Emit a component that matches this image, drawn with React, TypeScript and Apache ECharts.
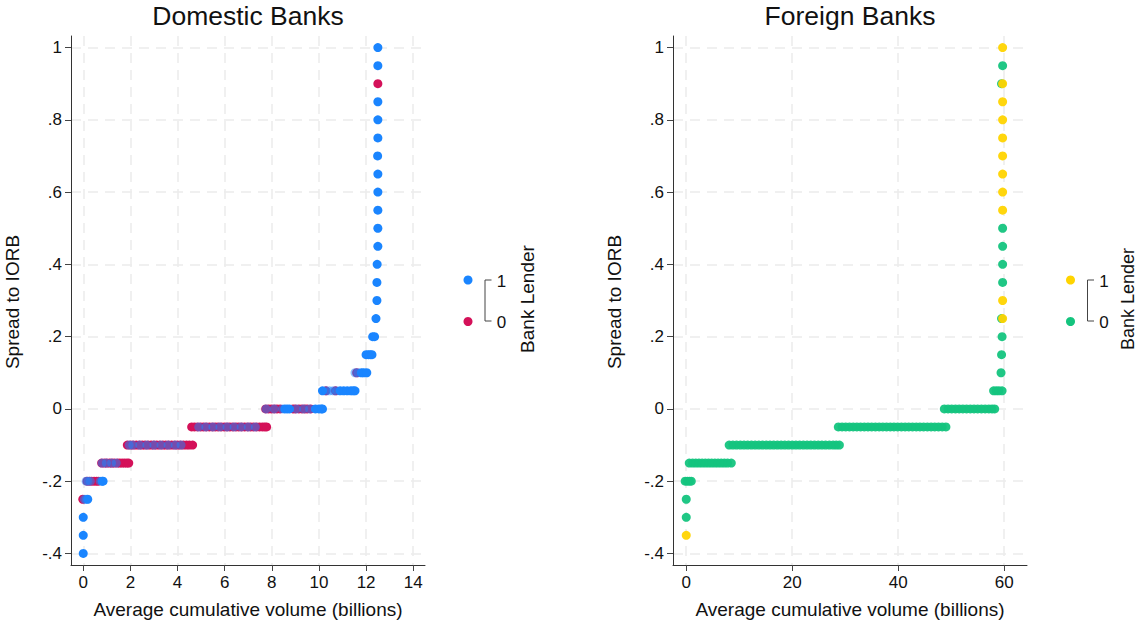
import React, { useEffect, useRef } from "react";
import * as echarts from "echarts";

// ---------- DATA ----------
const panelTitles = ["Domestic Banks", "Foreign Banks"];
const xAxisTitle = "Average cumulative volume (billions)";
const yAxisTitle = "Spread to IORB";
const legendTitle = "Bank Lender";
const legendLabels = ["1", "0"];

const yTicks = [-0.4, -0.2, 0, 0.2, 0.4, 0.6, 0.8, 1];
const domesticXTicks = [0, 2, 4, 6, 8, 10, 12, 14];
const foreignXTicks = [0, 20, 40, 60];

// [spread level, list of average cumulative volumes]
const domesticLender0: [number, number[]][] = [
  [-0.25, [-0.02]],
  [-0.2, [0.16, 0.26, 0.36, 0.46, 0.56, 0.64]],
  [-0.15, [0.78, 0.9, 1.0, 1.12, 1.22, 1.32, 1.45, 1.55, 1.65, 1.75, 1.85, 1.93]],
  [-0.1, [1.87, 2.0, 2.12, 2.25, 2.38, 2.5, 2.62, 2.75, 2.88, 3.0, 3.12, 3.25, 3.38, 3.5, 3.62, 3.75, 3.88, 4.0, 4.12, 4.25, 4.38, 4.5, 4.64]],
  [-0.05, [4.6, 4.72, 4.85, 4.98, 5.1, 5.22, 5.35, 5.48, 5.6, 5.72, 5.85, 5.98, 6.1, 6.22, 6.35, 6.48, 6.6, 6.72, 6.85, 6.98, 7.1, 7.22, 7.35, 7.48, 7.6, 7.7, 7.78]],
  [0, [7.74, 7.86, 7.98, 8.1, 8.22, 8.35, 8.9, 9.0, 9.15, 9.28, 9.4, 9.5, 9.65]],
  [0.05, [10.3, 10.7]],
  [0.1, [11.6]],
  [0.9, [12.5]],
];

const domesticLender1: [number, number[]][] = [
  [-0.4, [0]],
  [-0.35, [0]],
  [-0.3, [0]],
  [-0.25, [0.05, 0.12, 0.19]],
  [-0.2, [0.12, 0.2, 0.3, 0.72, 0.8, 0.84]],
  [-0.15, [0.8, 0.98, 1.2, 1.4]],
  [-0.1, [1.95, 2.1, 2.4, 2.7, 3.0, 3.3, 3.6, 3.9, 4.15]],
  [-0.05, [4.9, 5.2, 5.5, 5.8, 6.1, 6.4, 6.7, 7.0, 7.3]],
  [0, [7.76, 8.1, 8.45, 8.55, 8.65, 8.75, 9.05, 9.35, 9.6, 9.85, 10.0, 10.1, 10.15]],
  [0.05, [10.15, 10.3, 10.45, 10.6, 10.75, 10.9, 11.05, 11.2, 11.35, 11.45, 11.53]],
  [0.1, [11.53, 11.65, 11.8, 11.9, 12.03]],
  [0.15, [12.0, 12.1, 12.18, 12.25]],
  [0.2, [12.28, 12.36]],
  [0.25, [12.42]],
  [0.3, [12.46]],
  [0.35, [12.46]],
  [0.4, [12.47]],
  [0.45, [12.5]],
  [0.5, [12.5]],
  [0.55, [12.5]],
  [0.6, [12.5]],
  [0.65, [12.5]],
  [0.7, [12.49]],
  [0.75, [12.5]],
  [0.8, [12.5]],
  [0.85, [12.5]],
  [0.95, [12.5]],
  [1.0, [12.5]],
];

const foreignLender0: [number, number[]][] = [
  [-0.3, [0]],
  [-0.25, [0]],
  [-0.2, [-0.2, 0.2, 0.6, 0.95]],
  [-0.15, [0.57, 1.2, 1.8, 2.4, 3.0, 3.6, 4.2, 4.8, 5.4, 6.0, 6.6, 7.2, 7.8, 8.5]],
  [-0.1, [8.1, 8.8, 9.5, 10.2, 10.9, 11.6, 12.3, 13.0, 13.7, 14.4, 15.1, 15.8, 16.5, 17.2, 17.9, 18.6, 19.3, 20.0, 20.7, 21.4, 22.1, 22.8, 23.5, 24.2, 24.9, 25.6, 26.3, 27.0, 27.7, 28.3, 28.9]],
  [-0.05, [28.7, 29.4, 30.1, 30.8, 31.5, 32.2, 32.9, 33.6, 34.3, 35.0, 35.7, 36.4, 37.1, 37.8, 38.5, 39.2, 39.9, 40.6, 41.3, 42.0, 42.7, 43.4, 44.1, 44.8, 45.5, 46.2, 46.9, 47.6, 48.3, 49.0]],
  [0, [48.7, 49.4, 50.1, 50.8, 51.5, 52.2, 52.9, 53.6, 54.3, 55.0, 55.7, 56.4, 57.1, 57.7, 58.2]],
  [0.05, [58.0, 58.5, 59.0, 59.6]],
  [0.1, [59.4]],
  [0.15, [59.5]],
  [0.2, [59.6]],
  [0.25, [59.5]],
  [0.35, [59.7]],
  [0.4, [59.7]],
  [0.45, [59.7]],
  [0.5, [59.7]],
  [0.9, [59.5]],
  [0.95, [59.7]],
];

const foreignLender1: [number, number[]][] = [
  [-0.35, [0]],
  [0.25, [59.7]],
  [0.3, [59.7]],
  [0.55, [59.7]],
  [0.6, [59.7]],
  [0.65, [59.7]],
  [0.7, [59.7]],
  [0.75, [59.7]],
  [0.8, [59.7]],
  [0.85, [59.7]],
  [0.9, [59.7]],
  [1.0, [59.7]],
];

// ---------- STYLE ----------
const FONT = "'Liberation Sans', Arial, Helvetica, sans-serif";
const BLUE = "#1A85FF";
const RED = "#D41159";
const YELLOW = "#FFD400";
const GREEN = "#14C47E";

const toPoints = (groups: [number, number[]][]) =>
  groups.flatMap(([y, xs]) => xs.map((x) => [x, y]));

// overlapping markers are drawn translucent (so red + blue blends to purple)
const withOverlapOpacity = (
  groups: [number, number[]][],
  under: [number, number[]][],
  near: number,
  overlapOpacity: number
) =>
  toPoints(groups).map(([x, y]) => {
    const row = under.find(([lvl]) => lvl === y);
    const overlaps = !!row && row[1].some((ux) => Math.abs(ux - x) <= near);
    return { value: [x, y], itemStyle: { opacity: overlaps ? overlapOpacity : 1 } };
  });

const yFmt = (v: number) => {
  const s = String(Math.round(v * 10) / 10);
  return s.replace(/^(-?)0\./, "$1.");
};

const gridLine = {
  show: true,
  lineStyle: { color: "#ebebeb", width: 1.5, type: [10, 7] as any },
};

function makeXAxis(gridIndex: number, min: number, max: number, ticks: number[]) {
  return {
    type: "value",
    gridIndex,
    min,
    max,
    axisLine: { show: true, onZero: false, lineStyle: { color: "#333", width: 1 } },
    axisTick: { show: true, length: 6, customValues: ticks, lineStyle: { color: "#444" } },
    axisLabel: {
      customValues: ticks,
      color: "#111",
      fontSize: 17,
      fontFamily: FONT,
      margin: 9,
      showMinLabel: true,
      showMaxLabel: true,
    },
    splitLine: gridLine,
  };
}

function makeYAxis(gridIndex: number) {
  return {
    type: "value",
    gridIndex,
    min: -0.432,
    max: 1.032,
    axisLine: { show: true, onZero: false, lineStyle: { color: "#333", width: 1 } },
    axisTick: { show: true, length: 6, customValues: yTicks, lineStyle: { color: "#444" } },
    axisLabel: {
      customValues: yTicks,
      formatter: yFmt,
      color: "#111",
      fontSize: 17,
      fontFamily: FONT,
      margin: 9,
    },
    splitLine: gridLine,
  };
}

function scatter(data: any[], color: string, idx: number, opacity: number) {
  return {
    type: "scatter",
    xAxisIndex: idx,
    yAxisIndex: idx,
    data,
    symbol: "circle",
    symbolSize: 9,
    silent: true,
    itemStyle: { color, opacity },
  };
}

function legend(dotX: number, topColor: string, botColor: string, textX: number, titleSize: number) {
  return [
    { type: "circle", shape: { cx: dotX, cy: 280, r: 4.5 }, style: { fill: topColor } },
    { type: "circle", shape: { cx: dotX, cy: 321.5, r: 4.5 }, style: { fill: botColor } },
    {
      type: "polyline",
      shape: { points: [[dotX + 23.5, 280], [dotX + 17, 280], [dotX + 17, 321], [dotX + 23.5, 321]] },
      style: { stroke: "#444", lineWidth: 1, fill: "none" },
    },
    {
      type: "text",
      x: dotX + 33.5,
      y: 281,
      style: { text: legendLabels[0], fontSize: 17, fontFamily: FONT, fill: "#111", align: "center", verticalAlign: "middle" },
    },
    {
      type: "text",
      x: dotX + 33.5,
      y: 322,
      style: { text: legendLabels[1], fontSize: 17, fontFamily: FONT, fill: "#111", align: "center", verticalAlign: "middle" },
    },
    {
      type: "text",
      x: textX,
      y: 299,
      rotation: Math.PI / 2,
      style: { text: legendTitle, fontSize: titleSize, fontFamily: FONT, fill: "#111", align: "center", verticalAlign: "middle" },
    },
  ];
}

function textEl(text: string, x: number, y: number, size: number, rot = 0) {
  return {
    type: "text",
    x,
    y,
    rotation: rot,
    style: { text, fontSize: size, fontFamily: FONT, fill: "#111", align: "center", verticalAlign: "middle" },
  };
}

export default function App() {
  const ref = useRef<HTMLDivElement>(null);

  useEffect(() => {
    if (!ref.current) return;
    const chart = echarts.init(ref.current, undefined, { renderer: "svg" });
    chart.setOption({
      animation: false,
      backgroundColor: "#ffffff",
      grid: [
        { left: 71, right: 1138 - 425, top: 36, bottom: 621 - 565, containLabel: false },
        { left: 673, right: 1138 - 1027, top: 36, bottom: 621 - 565, containLabel: false },
      ],
      xAxis: [makeXAxis(0, -0.52, 14.5, domesticXTicks), makeXAxis(1, -2.5, 64.3, foreignXTicks)],
      yAxis: [makeYAxis(0), makeYAxis(1)],
      series: [
        scatter(toPoints(domesticLender0), RED, 0, 1),
        scatter(withOverlapOpacity(domesticLender1, domesticLender0, 0.15, 0.5), BLUE, 0, 1),
        scatter(toPoints(foreignLender0), GREEN, 1, 0.95),
        scatter(toPoints(foreignLender1), YELLOW, 1, 0.95),
      ],
      graphic: [
        textEl(panelTitles[0], 248, 16, 26.5),
        textEl(panelTitles[1], 850, 16, 26.5),
        textEl(xAxisTitle, 248, 609, 19),
        textEl(xAxisTitle, 850, 609, 19),
        textEl(yAxisTitle, 12, 302, 19, Math.PI / 2),
        textEl(yAxisTitle, 614, 302, 19, Math.PI / 2),
        ...legend(468, BLUE, RED, 527, 19),
        ...legend(1070.5, YELLOW, GREEN, 1128, 18),
      ],
    });
    return () => chart.dispose();
  }, []);

  return (
    <div
      ref={ref}
      style={{ position: "fixed", left: 0, top: 0, width: 1138, height: 621, background: "#fff" }}
    />
  );
}
